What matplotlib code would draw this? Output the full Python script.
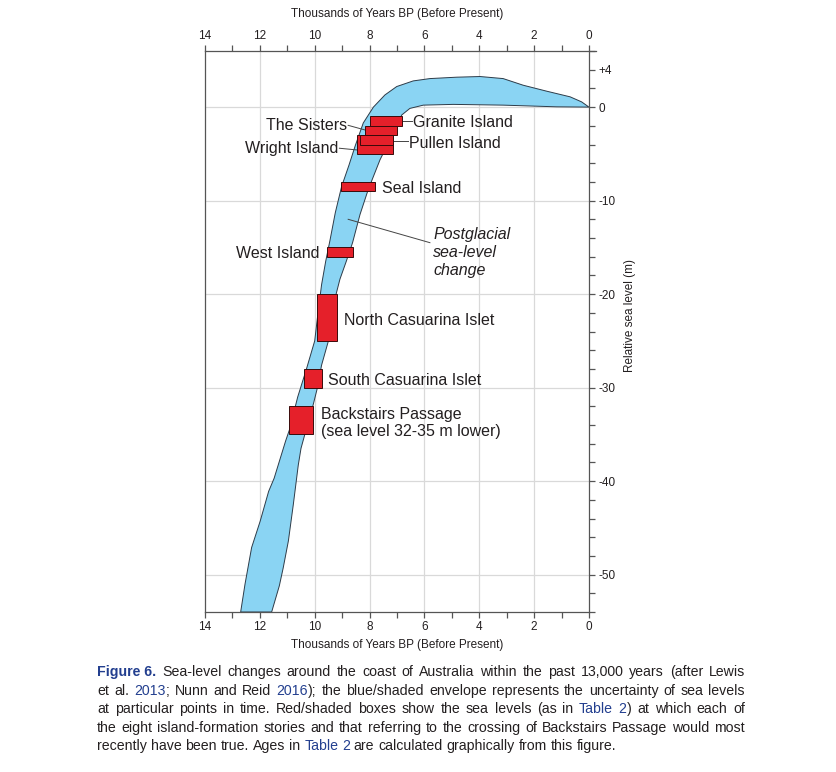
import matplotlib
matplotlib.use("Agg")
import matplotlib.pyplot as plt
from matplotlib.patches import Rectangle
from matplotlib.ticker import MultipleLocator, FixedLocator, FuncFormatter
from matplotlib import font_manager

plt.rcParams['font.family'] = ['Liberation Sans', 'DejaVu Sans']
plt.rcParams['axes.unicode_minus'] = False

# envelope, older / higher edge (ka BP, m)
upper_age = [12.70, 12.54, 12.30, 11.99, 11.68, 11.48, 11.06, 10.92, 10.62, 10.30, 10.00,
             9.88, 9.75, 9.60, 9.44, 9.25, 9.02, 8.75, 8.53, 8.23, 7.86, 7.44, 7.01,
             6.41, 5.80, 4.82, 3.97, 3.13, 2.40, 1.54, 0.69, 0.27, 0.0]
upper_level = [-54, -51.0, -47.1, -44.3, -41.1, -39.7, -35.7, -34.5, -31.0, -28.0, -25.0,
               -22.0, -19.0, -16.5, -14.2, -11.3, -8.5, -6.2, -4.2, -1.7, 0.0, 1.3, 2.2,
               2.8, 3.05, 3.2, 3.27, 3.05, 2.34, 1.70, 1.10, 0.56, 0.0]

# envelope, younger / lower edge
lower_age = [0.0, 1.18, 3.13, 4.95, 6.04, 6.53, 6.83, 6.95, 7.38, 7.62, 8.05, 8.35, 8.62,
             8.85, 9.08, 9.22, 9.50, 9.75, 9.90, 10.07, 10.36, 10.50, 10.60, 10.66, 10.78,
             10.96, 11.15, 11.29, 11.57]
lower_level = [0.0, 0.03, 0.21, 0.29, 0.21, -0.14, -0.85, -1.73, -4.22, -5.64, -8.83, -11.5,
               -14.5, -16.5, -18.4, -20.0, -25.0, -27.6, -30.0, -32.0, -35.0, -36.5, -38.3,
               -39.7, -42.5, -46.4, -49.3, -51.2, -54]

# island boxes (drawing order matters for the overlapping ones)
islands = ['Wright Island', 'Pullen Island', 'The Sisters', 'Granite Island', 'Seal Island',
           'West Island', 'North Casuarina Islet', 'South Casuarina Islet', 'Backstairs Passage']
box_old = [8.47, 8.35, 8.17, 7.98, 9.04, 9.56, 9.91, 10.39, 10.94]
box_young = [7.14, 7.14, 6.99, 6.83, 7.80, 8.59, 9.20, 9.75, 10.07]
box_top = [-3, -3, -2, -1, -8, -15, -20, -28, -32]
box_bottom = [-5, -4, -3, -2, -9, -16, -25, -30, -35]

age_ticks = [14, 12, 10, 8, 6, 4, 2, 0]
level_ticks = [4, 0, -10, -20, -30, -40, -50]
grid_ages = [12, 10, 8, 6, 4, 2]
grid_levels = [0, -10, -20, -30, -40, -50]

W, H = 837, 772
fig = plt.figure(figsize=(W / 100, H / 100), dpi=100)
ax = fig.add_axes([205 / W, 1 - 612 / H, 384 / W, 561 / H])
ax.set_xlim(14, 0)
ax.set_ylim(-54, 6)

axc = '#555555'
txt = '#231f20'

for g in grid_ages:
    ax.axvline(g, color='#d9d9d9', lw=0.9, zorder=0)
for g in grid_levels:
    ax.axhline(g, color='#d9d9d9', lw=0.9, zorder=0)

ax.fill(upper_age + lower_age, upper_level + lower_level,
        facecolor='#8ad4f3', edgecolor='#2d3b48', lw=0.7, zorder=2)

# leader lines
leaders = [
    ((8.78, -1.95), (8.10, -2.5)),
    ((9.10, -4.4), (8.40, -4.6)),
    ((6.83, -1.5), (6.47, -1.5)),
    ((7.14, -3.6), (6.59, -3.6)),
    ((8.78, -12.0), (5.80, -14.5)),
]
for (x0, y0), (x1, y1) in leaders:
    ax.plot([x0, x1], [y0, y1], color='#444444', lw=0.7, zorder=3)

for name, xo, xy, yt, yb in zip(islands, box_old, box_young, box_top, box_bottom):
    ax.add_patch(Rectangle((xy, yb), xo - xy, yt - yb, facecolor='#e5202a',
                           edgecolor='#3a0a0a', lw=0.7, zorder=4))

fs = 11.5
labels = [
    ('Granite Island', 6.43, -1.6, 'left'),
    ('The Sisters', 8.82, -2.0, 'right'),
    ('Pullen Island', 6.55, -3.85, 'left'),
    ('Wright Island', 9.13, -4.4, 'right'),
    ('Seal Island', 7.54, -8.7, 'left'),
    ('West Island', 9.83, -15.7, 'right'),
    ('North Casuarina Islet', 8.92, -22.85, 'left'),
    ('South Casuarina Islet', 9.53, -29.25, 'left'),
]
for t, x, y, ha in labels:
    ax.text(x, y, t, ha=ha, va='center', fontsize=fs, color=txt, zorder=5)
ax.text(9.78, -33.8, 'Backstairs Passage\n(sea level 32-35 m lower)', ha='left', va='center',
        fontsize=fs, color=txt, zorder=5, linespacing=1.22)
ax.text(5.68, -15.55, 'Postglacial\nsea-level\nchange', ha='left', va='center',
        fontsize=fs, style='italic', color=txt, zorder=5, linespacing=1.28)

# axes
for s in ax.spines.values():
    s.set_color(axc)
    s.set_linewidth(0.9)
ax.spines['top'].set_bounds(14, -0.25)
ax.xaxis.set_major_locator(FixedLocator(age_ticks))
ax.xaxis.set_minor_locator(MultipleLocator(1))
ax.xaxis.set_major_formatter(FuncFormatter(lambda v, p: '%d' % round(v)))
ax.tick_params(axis='x', which='both', top=True, bottom=True, labeltop=True, labelbottom=True,
               direction='out', length=4.5, width=0.9, color=axc, labelsize=8.5,
               labelcolor=txt, pad=2)
ax.yaxis.tick_right()
ax.yaxis.set_major_locator(FixedLocator(level_ticks))
ax.yaxis.set_minor_locator(FixedLocator([v for v in range(-54, 7, 2) if v not in level_ticks]))
ax.yaxis.set_major_formatter(FuncFormatter(lambda v, p: ('+%d' % v) if v > 0 else '%d' % v))
ax.tick_params(axis='y', which='both', left=False, right=True, labelleft=False, labelright=True,
               direction='out', length=4.5, width=0.9, color=axc, labelsize=8.5,
               labelcolor=txt, pad=2)

ax.text(0.5, 1.066, 'Thousands of Years BP (Before Present)', transform=ax.transAxes,
        ha='center', va='center', fontsize=8.5, color=txt)
ax.text(0.5, -0.058, 'Thousands of Years BP (Before Present)', transform=ax.transAxes,
        ha='center', va='center', fontsize=8.5, color=txt)
ax.text(1.107, 0.529, 'Relative sea level (m)', transform=ax.transAxes, rotation=90,
        ha='center', va='center', fontsize=8.5, color=txt)

# caption, justified word by word
cap_font = 'Liberation Sans Narrow'
try:
    font_manager.findfont(cap_font, fallback_to_default=False)
except Exception:
    cap_font = 'Liberation Sans'

caption = [
    "{Figure 6.} Sea-level changes around the coast of Australia within the past 13,000 years (after Lewis",
    "et al. [2013]; Nunn and Reid [2016]); the blue/shaded envelope represents the uncertainty of sea levels",
    "at particular points in time. Red/shaded boxes show the sea levels (as in [Table 2]) at which each of",
    "the eight island-formation stories and that referring to the crossing of Backstairs Passage would most",
    "recently have been true. Ages in [Table 2] are calculated graphically from this figure.",
]
# whole pixels, so every word's baseline rounds the same way
baselines = [676, 695, 713, 732, 750]
cap_left, cap_right = 97, 745
blue = '#233f8f'


def parse(line):
    words, cur, buf, mode = [], [], '', 'n'
    for ch in line:
        if ch in '[{]}':
            if buf:
                cur.append((buf, mode))
                buf = ''
            mode = {'[': 'b', '{': 'B', ']': 'n', '}': 'n'}[ch]
        elif ch == ' ' and mode != 'B':
            if buf:
                cur.append((buf, mode))
                buf = ''
            if cur:
                words.append(cur)
                cur = []
        else:
            buf += ch
    if buf:
        cur.append((buf, mode))
    if cur:
        words.append(cur)
    return words


def style(mode):
    if mode == 'B':
        return dict(color=blue, fontweight='bold')
    if mode == 'b':
        return dict(color=blue)
    return dict(color=txt)


r = fig.canvas.get_renderer()


def seg_width(s, mode, size):
    t = fig.text(0, 0, s, fontsize=size, family=cap_font, **style(mode))
    w = t.get_window_extent(r).width
    t.remove()
    return w


parsed = [parse(line) for line in caption]

# largest size at which every line still fits with at least a normal space
cap_fs = 11.0
while cap_fs > 8:
    sp = seg_width('a b', 'n', cap_fs) - seg_width('ab', 'n', cap_fs)
    ok = True
    for words in parsed:
        tot = sum(seg_width(s, m, cap_fs) for w in words for s, m in w)
        if tot + sp * 1.15 * (len(words) - 1) > cap_right - cap_left:
            ok = False
            break
    if ok:
        break
    cap_fs -= 0.2

space_w = seg_width('a b', 'n', cap_fs) - seg_width('ab', 'n', cap_fs)
for i, (words, yb) in enumerate(zip(parsed, baselines)):
    widths = [[seg_width(s, m, cap_fs) for s, m in w] for w in words]
    total = sum(sum(w) for w in widths)
    last = i == len(parsed) - 1
    gap = space_w if last else (cap_right - cap_left - total) / (len(words) - 1)
    x = cap_left
    for w, ws in zip(words, widths):
        for (s, m), sw in zip(w, ws):
            fig.text(x / W, 1 - yb / H, s, fontsize=cap_fs, family=cap_font,
                     va='baseline', ha='left', **style(m))
            x += sw
        x += gap

fig.savefig('out.png', dpi=100)
